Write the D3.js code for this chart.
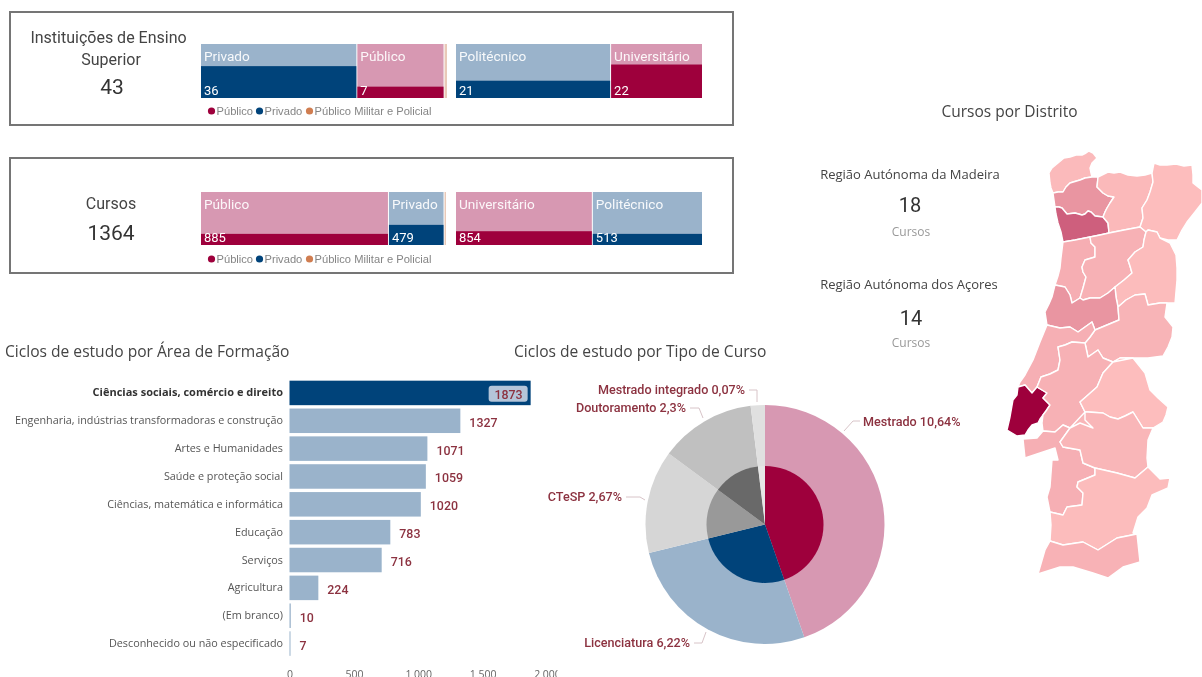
<!DOCTYPE html>
<html><head><meta charset="utf-8">
<script src="https://cdnjs.cloudflare.com/ajax/libs/d3/7.8.5/d3.min.js"></script>
<style>html,body{margin:0;padding:0;background:#fff;overflow:hidden}svg{display:block;filter:blur(.3px)}</style></head>
<body><div id="chart"></div>
<script>
// ---------- data ----------
const legendLabels = ["Público","Privado","Público Militar e Policial"];
const instSectorNames = ["Privado","Público",""];
const instSectorValues = [36,7,0];
const instSectorWidth = [63.3,35.3,1.4];
const instSectorFill = [0.59,0.21,0];
const instTypeNames = ["Politécnico","Universitário"];
const instTypeValues = [21,22];
const instTypeWidth = [62.8,37.2];
const instTypeFill = [0.32,0.62];
const courseSectorNames = ["Público","Privado",""];
const courseSectorValues = [885,479,0];
const courseSectorWidth = [76.4,22.6,1];
const courseSectorFill = [0.21,0.38,0];
const courseTypeNames = ["Universitário","Politécnico"];
const courseTypeValues = [854,513];
const courseTypeWidth = [55.4,44.6];
const courseTypeFill = [0.26,0.21];

const areaNames = ["Ciências sociais, comércio e direito","Engenharia, indústrias transformadoras e construção","Artes e Humanidades","Saúde e proteção social","Ciências, matemática e informática","Educação","Serviços","Agricultura","(Em branco)","Desconhecido ou não especificado"];
const areaValues = [1873,1327,1071,1059,1020,783,716,224,10,7];
const areaTicks = [0,500,1000,1500,2000];

const courseTypeLabels = ["Mestrado 10,64%","Licenciatura 6,22%","CTeSP 2,67%","Doutoramento 2,3%","Mestrado integrado 0,07%"];
const courseTypeShares = [44.67,26.5,13.94,12.97,1.92];

// district map: shared border arcs, then each district as a ring of arcs ("-" = reversed)
const mapArcs = {
 vianaOuter:[[1053,193],[1051,188],[1050,183],[1049,173],[1052,168],[1058,163],[1064,158],[1070,157],[1076,155],[1082,155],[1086,153],[1089,151],[1093,153],[1097,158],[1092,163],[1090,168],[1091,173],[1092,177]],
 vianaBraga:[[1092,177],[1085,178],[1080,180],[1070,183],[1066,187],[1063,192],[1058,192],[1053,193]],
 bragaN:[[1092,177],[1098,177]],
 bragaVR:[[1098,177],[1097,187],[1103,193],[1108,196],[1114,197],[1110,203],[1107,208],[1105,212],[1103,217]],
 bragaPorto:[[1103,217],[1095,216],[1091,212],[1088,211],[1085,214],[1082,215],[1075,213],[1067,214],[1062,208],[1059,207],[1055,207]],
 bragaCoast:[[1055,207],[1053,193]],
 portoCoast:[[1063,242],[1061,232],[1058,223],[1056,214],[1055,207]],
 portoVR:[[1103,217],[1108,223],[1109,233]],
 portoViseu:[[1109,233],[1100,235],[1090,237]],
 portoAveiro:[[1090,237],[1075,240],[1063,242]],
 vrNorth:[[1098,177],[1108,172],[1114,173],[1120,172],[1128,175],[1137,176],[1145,175],[1152,173]],
 vrBraganca:[[1152,173],[1153,182],[1150,192],[1147,200],[1142,208],[1143,218],[1140,227]],
 vrViseu:[[1109,233],[1124,230],[1140,227]],
 braganOuter:[[1152,173],[1154,163],[1160,165],[1167,165],[1176,164],[1184,166],[1192,165],[1193,175],[1193,183],[1198,187],[1202,190],[1202,203],[1195,212],[1187,222],[1182,230],[1177,240],[1168,240],[1160,238]],
 braganGuarda:[[1160,238],[1157,232],[1148,230],[1146,232]],
 braganViseu:[[1146,232],[1140,227]],
 guardaOuter:[[1160,238],[1170,243],[1176,255],[1177,268],[1177,280],[1175,303],[1167,303]],
 guardaCB:[[1167,303],[1160,303],[1148,305],[1145,294],[1135,295],[1126,300],[1118,307]],
 guardaViseu:[[1146,232],[1144,240],[1143,247],[1135,252],[1128,260],[1130,266],[1132,273],[1124,280],[1115,287]],
 guardaCoimbra:[[1115,287],[1116,297],[1118,307]],
 viseuCoimbra:[[1115,287],[1108,293],[1100,298],[1090,298],[1083,300],[1080,298]],
 viseuAveiro:[[1090,237],[1091,243],[1095,247],[1095,257],[1085,260],[1082,267],[1083,272],[1086,277],[1083,288],[1080,298]],
 aveiroCoimbra:[[1080,298],[1072,303],[1070,295],[1065,287],[1055,285]],
 aveiroCoast:[[1055,285],[1058,276],[1060,268],[1061,258],[1062,250],[1063,242]],
 coimbraCoast:[[1047,325],[1045,312],[1049,304],[1052,297],[1055,285]],
 coimbraCB:[[1118,307],[1119,320],[1107,325],[1095,330]],
 coimbraLeiria:[[1095,330],[1092,322],[1085,327],[1078,332],[1070,327],[1060,328],[1047,325]],
 leiriaCB:[[1095,330],[1090,337],[1085,343]],
 leiriaSant:[[1085,343],[1072,342],[1065,345],[1058,347],[1060,360],[1058,370],[1050,374],[1041,377],[1037,387]],
 leiriaLisboa:[[1037,387],[1032,393],[1025,385],[1018,387]],
 leiriaCoast:[[1018,387],[1020,382],[1025,375],[1033,360],[1040,342],[1047,325]],
 cbSant:[[1085,343],[1088,357],[1098,350],[1103,358],[1113,362]],
 cbPort:[[1113,362],[1120,358],[1133,358]],
 cbOuter:[[1133,358],[1148,358],[1163,356],[1168,347],[1172,337],[1173,327],[1165,317],[1167,303]],
 santLisboa:[[1037,387],[1047,393],[1043,398],[1050,405],[1046,411],[1043,415]],
 lisboaOuter:[[1043,415],[1040,419],[1038,423],[1032,425],[1028,430],[1025,435],[1017,436],[1007,430],[1010,417],[1013,400],[1017,395],[1018,387]],
 santEstuary:[[1043,415],[1042,423],[1043,431]],
 santSetubal:[[1043,431],[1055,432],[1063,425],[1070,428]],
 santEvora:[[1070,428],[1080,423],[1093,428],[1085,420],[1085,412]],
 santPort:[[1085,412],[1080,402],[1088,395],[1097,387],[1103,373],[1113,362]],
 portOuter:[[1133,358],[1145,373],[1150,390],[1158,398],[1168,407],[1166,415],[1163,422],[1153,428]],
 portEvora:[[1153,428],[1143,428],[1138,420],[1133,412],[1125,416],[1118,419],[1110,417],[1103,413],[1088,412],[1085,412]],
 evoraOuter:[[1153,428],[1148,440],[1147,458],[1148,467]],
 evoraBeja:[[1148,467],[1135,478],[1117,473],[1095,468]],
 evoraSetubal:[[1095,468],[1083,463],[1080,450],[1063,447],[1060,442],[1070,428]],
 bejaSetubal:[[1095,468],[1095,475],[1078,482],[1077,487],[1083,493],[1082,505],[1067,507],[1063,515],[1050,512]],
 setubalCoast:[[1050,512],[1047,497],[1050,487],[1052,460],[1058,460],[1055,448],[1040,453],[1025,458],[1023,439],[1037,438],[1043,431]],
 bejaFaro:[[1050,541],[1063,545],[1083,542],[1098,550],[1117,538],[1137,534]],
 bejaOuter:[[1148,467],[1160,479],[1170,478],[1168,488],[1152,495],[1147,508],[1138,517],[1133,533],[1137,534]],
 bejaCoast:[[1050,541],[1051,525],[1050,512]],
 faroOuter:[[1137,534],[1140,562],[1123,567],[1108,578],[1093,573],[1073,567],[1060,567],[1038,574],[1045,550],[1050,541]]
};
const districtNames = ["Viana do Castelo","Braga","Porto","Vila Real","Bragança","Aveiro","Viseu","Guarda","Coimbra","Castelo Branco","Leiria","Lisboa","Santarém","Setúbal","Portalegre","Évora","Beja","Faro"];
const districtCourses = [20,110,240,22,12,48,40,15,110,35,45,470,40,45,12,30,15,38];
const districtRings = [
 ["vianaOuter","vianaBraga"],
 ["-vianaBraga","bragaN","bragaVR","bragaPorto","bragaCoast"],
 ["-bragaPorto","portoVR","portoViseu","portoAveiro","portoCoast"],
 ["vrNorth","vrBraganca","-vrViseu","-portoVR","-bragaVR"],
 ["braganOuter","braganGuarda","braganViseu","-vrBraganca"],
 ["-portoAveiro","viseuAveiro","aveiroCoimbra","aveiroCoast"],
 ["-portoViseu","vrViseu","-braganViseu","guardaViseu","viseuCoimbra","-viseuAveiro"],
 ["-braganGuarda","guardaOuter","guardaCB","-guardaCoimbra","-guardaViseu"],
 ["-aveiroCoimbra","-viseuCoimbra","guardaCoimbra","coimbraCB","coimbraLeiria","coimbraCoast"],
 ["-guardaCB","-cbOuter","-cbPort","-cbSant","-leiriaCB","-coimbraCB"],
 ["-coimbraLeiria","leiriaCB","leiriaSant","leiriaLisboa","leiriaCoast"],
 ["santLisboa","lisboaOuter","-leiriaLisboa"],
 ["cbSant","-santPort","-santEvora","-santSetubal","-santEstuary","-santLisboa","-leiriaSant"],
 ["santSetubal","-evoraSetubal","bejaSetubal","setubalCoast"],
 ["-cbPort","portOuter","portEvora","santPort"],
 ["-portEvora","evoraOuter","evoraBeja","evoraSetubal","-santEvora"],
 ["-evoraBeja","bejaOuter","-bejaFaro","bejaCoast","-bejaSetubal"],
 ["bejaFaro","faroOuter"]
];

// ---------- layout ----------
const W=1202,H=677;
const svg=d3.select("#chart").append("svg").attr("width",W).attr("height",H).style("background","#fff");
const sans='"Open Sans","Noto Sans",sans-serif', din='Roboto,"Noto Sans",sans-serif', arial='"Liberation Sans",Arial,sans-serif';
const pink="#d798b2", crimson="#9e003c", lblue="#9ab3cb", navy="#00437a", red="#8c3240";
const colourByName={"Privado":[lblue,navy],"Público":[pink,crimson],"Politécnico":[lblue,navy],"Universitário":[pink,crimson],"":["#e9c9b8","#d07d50"]};

function kpiText(x,y,t,size,col,fam){return svg.append("text").attr("x",x).attr("y",y).attr("text-anchor","middle").attr("font-family",fam||din).attr("font-size",size).attr("fill",col||"#444").text(t);}

function mekko(names,vals,widths,fill,x0,x1,y0,y1){
  const total=d3.sum(widths);
  const x=d3.scaleLinear().domain([0,total]).range([x0,x1]);
  const y=d3.scaleLinear().domain([0,1]).range([y1,y0]);
  const cum=d3.cumsum(widths);
  const g=svg.append("g");
  names.forEach((n,i)=>{
    const a=x(i?cum[i-1]:0), b=x(cum[i])-1, c=colourByName[n];
    g.append("rect").attr("x",a).attr("y",y0).attr("width",b-a).attr("height",y1-y0).attr("fill",c[0]);
    g.append("rect").attr("x",a).attr("y",y(fill[i])).attr("width",b-a).attr("height",y1-y(fill[i])).attr("fill",c[1]);
    if(n){
      g.append("text").attr("x",a+3).attr("y",y0+16.5).attr("font-family",din).attr("font-size",13.6).attr("fill","#fff").attr("fill-opacity",.92).text(n);
      g.append("text").attr("x",a+3).attr("y",y1-3).attr("font-family",din).attr("font-size",13).attr("fill","#fff").text(vals[i]);
    }
  });
}
function legend(y){
  const xs=[211.5,259.5,309.5], cols=[crimson,navy,"#d07d50"];
  legendLabels.forEach((t,i)=>{
    svg.append("circle").attr("cx",xs[i]).attr("cy",y).attr("r",3.6).attr("fill",cols[i]);
    svg.append("text").attr("x",xs[i]+5).attr("y",y+4).attr("font-family",arial).attr("font-size",11.15).attr("fill","#858585").text(t);
  });
}
[[10,12,723,113],[10,158,723,115]].forEach(b=>svg.append("rect").attr("x",b[0]).attr("y",b[1]).attr("width",b[2]).attr("height",b[3]).attr("fill","none").attr("stroke","#757575").attr("stroke-width",2));

kpiText(108.5,43,"Instituições de Ensino",16);
kpiText(111,65,"Superior",16);
kpiText(112,94,"43",21,"#333");
mekko(instSectorNames,instSectorValues,instSectorWidth,instSectorFill,201,448,44,98);
mekko(instTypeNames,instTypeValues,instTypeWidth,instTypeFill,456,703,44,98);
legend(111);

kpiText(111,209,"Cursos",16);
kpiText(111,240,"1364",21,"#333");
mekko(courseSectorNames,courseSectorValues,courseSectorWidth,courseSectorFill,201,447,192,245);
mekko(courseTypeNames,courseTypeValues,courseTypeWidth,courseTypeFill,456,703,192,245);
legend(259);

// bars
svg.append("text").attr("x",5).attr("y",357).attr("font-family",sans).attr("font-size",15.6).attr("fill","#444").text("Ciclos de estudo por Área de Formação");
const bx=d3.scaleLinear().domain([0,2000]).range([289.5,547]);
const by=d3.scaleBand().domain(areaNames).range([379,657.5]).paddingInner(0.12).paddingOuter(0.06);
const defs=svg.append("defs");
defs.append("clipPath").attr("id","axclip").append("rect").attr("x",270).attr("y",660).attr("width",287.5).attr("height",20);
const barG=svg.append("g");
barG.selectAll("rect").data(areaNames).join("rect").attr("x",bx(0)).attr("y",d=>by(d)).attr("width",(d,i)=>Math.max(1,bx(areaValues[i])-bx(0))).attr("height",by.bandwidth()).attr("fill",(d,i)=>i?lblue:navy);
barG.selectAll("text.cat").data(areaNames).join("text").attr("class","cat").attr("x",283).attr("y",d=>by(d)+by.bandwidth()/2+3.5).attr("text-anchor","end").attr("font-family",sans).attr("font-size",(d,i)=>i?10.8:11).attr("font-weight",(d,i)=>i?400:700).attr("fill",(d,i)=>i?"#555":"#333").text(d=>d);
barG.append("rect").attr("x",bx(areaValues[0])-42).attr("y",by(areaNames[0])+5).attr("width",39).attr("height",16).attr("rx",3).attr("fill","#b4c5d9");
barG.selectAll("text.val").data(areaValues).join("text").attr("class","val").attr("x",(d,i)=>i?bx(d)+9:bx(d)-8).attr("y",(d,i)=>by(areaNames[i])+by.bandwidth()/2+6).attr("text-anchor",(d,i)=>i?"start":"end").attr("font-family",din).attr("font-weight",500).attr("font-size",12.4).attr("fill",red).text(d=>d);
const axis=d3.axisBottom(bx).tickValues(areaTicks).tickSize(0).tickFormat(d=>d>=1000?d3.format(",")(d).replace(",","\u00a0"):d);
const axG=svg.append("g").attr("clip-path","url(#axclip)").append("g").attr("transform","translate(0,667.5)").call(axis);
axG.select(".domain").remove();
axG.selectAll("text").attr("font-family",sans).attr("font-size",10.5).attr("fill","#666");

// pie
svg.append("text").attr("x",514).attr("y",357).attr("font-family",sans).attr("font-size",15.6).attr("fill","#444").text("Ciclos de estudo por Tipo de Curso");
const pieCx=765,pieCy=524.5;
const pie=d3.pie().sort(null).value(d=>d)(courseTypeShares);
const outerCols=[pink,lblue,"#d6d6d6","#c0c0c0","#e0e0e0"], innerCols=[crimson,navy,"#999999","#696969","#e6e6e6"];
const pg=svg.append("g").attr("transform",`translate(${pieCx},${pieCy})`);
const arcO=d3.arc().innerRadius(0).outerRadius(119.5), arcI=d3.arc().innerRadius(0).outerRadius(58.5);
pg.selectAll("path.o").data(pie).join("path").attr("class","o").attr("d",arcO).attr("fill",(d,i)=>outerCols[i]);
pg.selectAll("path.i").data(pie).join("path").attr("class","i").attr("d",arcI).attr("fill",(d,i)=>innerCols[i]);
const callouts=[
 {anchor:"start",tx:863,ty:426,line:[[844,431],[853,421],[860,421]]},
 {anchor:"end",tx:690,ty:647,line:[[694,643],[702,643],[706,632]]},
 {anchor:"end",tx:622,ty:501,line:[[626,497],[640,497],[645,500]]},
 {anchor:"end",tx:686,ty:412,line:[[690,408],[699,408],[703,418]]},
 {anchor:"end",tx:745,ty:394,line:[[749,390],[757,390],[757,402]]}];
courseTypeLabels.forEach((t,i)=>{
  const c=callouts[i];
  svg.append("path").attr("d",d3.line()(c.line)).attr("fill","none").attr("stroke","#d8c4c8").attr("stroke-width",1);
  svg.append("text").attr("x",c.tx).attr("y",c.ty).attr("text-anchor",c.anchor).attr("font-family",din).attr("font-weight",500).attr("font-size",12.6).attr("fill",red).text(t);
});

// district KPIs
kpiText(1009.5,117,"Cursos por Distrito",15.5,"#444",sans);
kpiText(910,179,"Região Autónoma da Madeira",13,"#444",sans);
kpiText(910,212,"18",20,"#333");
kpiText(911,236,"Cursos",12,"#999",sans);
kpiText(909,289,"Região Autónoma dos Açores",13,"#444",sans);
kpiText(911,325,"14",20,"#333");
kpiText(911,347,"Cursos",12,"#999",sans);

// map
const mx=d3.scaleLinear().domain([1000,1202]).range([1000,1202]);
const my=d3.scaleLinear().domain([140,580]).range([140,580]);
const mapColour=d3.scaleLinear().domain([12,470]).range(["#fdbdbd",crimson]);
const line=d3.line().x(d=>mx(d[0])).y(d=>my(d[1]));
const ringPoints=ring=>ring.flatMap(n=>n[0]==="-"?mapArcs[n.slice(1)].slice().reverse():mapArcs[n]);
svg.append("g").selectAll("path").data(districtRings).join("path")
  .attr("d",d=>line(ringPoints(d))+"Z").attr("fill",(d,i)=>mapColour(districtCourses[i])).attr("stroke","#fff").attr("stroke-width",1.4).attr("stroke-linejoin","round")
  .append("title").text((d,i)=>districtNames[i]);
</script></body></html>
